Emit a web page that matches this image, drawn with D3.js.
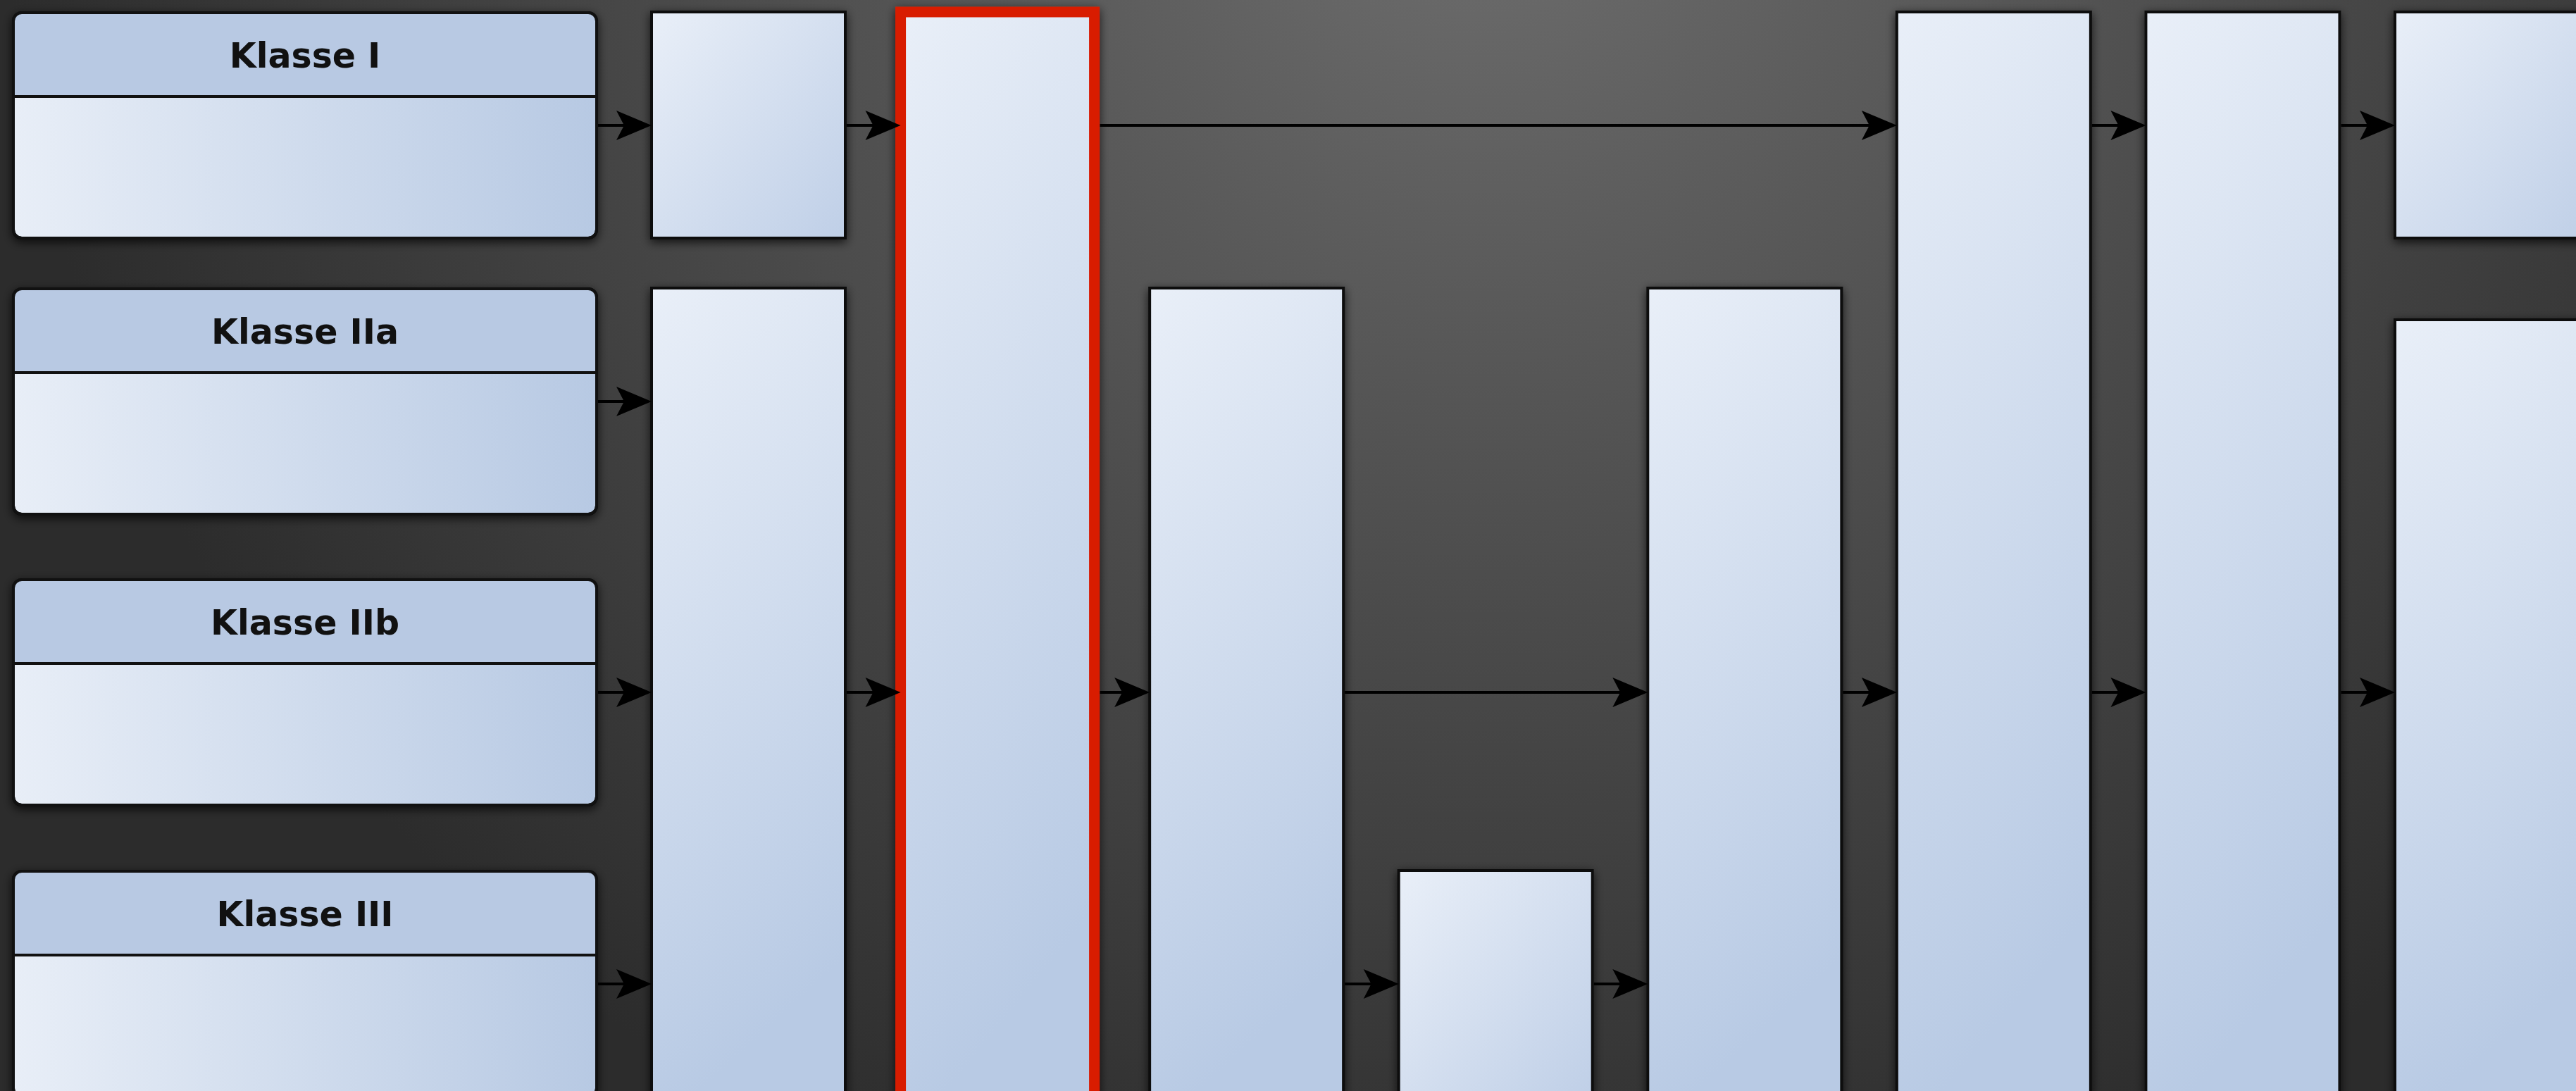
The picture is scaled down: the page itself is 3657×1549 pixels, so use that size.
<!DOCTYPE html>
<html>
<head>
<meta charset="utf-8">
<script src="https://cdn.jsdelivr.net/npm/d3@7"></script>
<style>
  body { margin: 0; background: #3a3a3a; overflow: hidden; }
</style>
</head>
<body>
<script>
const width = 3657,
    height = 1549;

// Rows (one per class) and their labels
const rows = ["I", "IIa", "IIb", "III"];
const classLabels = ["Klasse I", "Klasse IIa", "Klasse IIb", "Klasse III"];

// Stage boxes: column, first row, last row
const boxStage = [1, 1, 2, 3, 4, 5, 6, 7, 8, 8];
const boxFrom = ["I", "IIa", "I", "IIa", "III", "IIa", "I", "I", "I", "IIa"];
const boxTo = ["I", "III", "III", "III", "III", "III", "III", "III", "I", "III"];
const highlightedStage = 2;

// Arrows: row, from column (0 = class box), to column
const arrowRow = ["I", "I", "I", "I", "I", "IIa", "IIb", "IIb", "IIb", "IIb", "IIb", "IIb", "IIb", "III", "III", "III"];
const arrowFrom = [0, 1, 2, 6, 7, 0, 0, 1, 2, 3, 5, 6, 7, 0, 3, 4];
const arrowTo = [1, 2, 6, 7, 8, 1, 1, 2, 3, 5, 6, 7, 8, 1, 4, 5];

// Layout
const rowY = d3.scaleOrdinal().domain(rows).range([18, 410, 823, 1237]);
const rowH = 320,
    headerH = 119;
const x = d3.scaleLinear().domain([1, 8]).range([925, 3400]);
const colW = 275;
const classX0 = 19,
    classX1 = 847;

const svg = d3.select("body").append("svg")
    .attr("width", width)
    .attr("height", height);

const defs = svg.append("defs");

const bg = defs.append("radialGradient")
    .attr("id", "bg")
    .attr("gradientUnits", "userSpaceOnUse")
    .attr("cx", 2100).attr("cy", -250).attr("r", 2100);
bg.append("stop").attr("offset", "0%").attr("stop-color", "#707070");
bg.append("stop").attr("offset", "55%").attr("stop-color", "#4a4a4a");
bg.append("stop").attr("offset", "100%").attr("stop-color", "#2c2c2c");

const tall = defs.append("linearGradient")
    .attr("id", "tall")
    .attr("x1", 0).attr("y1", 0).attr("x2", 0.22).attr("y2", 1);
tall.append("stop").attr("offset", "0%").attr("stop-color", "#e9eff8");
tall.append("stop").attr("offset", "100%").attr("stop-color", "#b8cae4");

const short = defs.append("linearGradient")
    .attr("id", "short")
    .attr("x1", 0).attr("y1", 0).attr("x2", 1).attr("y2", 1);
short.append("stop").attr("offset", "0%").attr("stop-color", "#e9eff8");
short.append("stop").attr("offset", "100%").attr("stop-color", "#bfcfe7");

const body = defs.append("linearGradient")
    .attr("id", "body")
    .attr("x1", 0).attr("y1", 0).attr("x2", 1).attr("y2", 0);
body.append("stop").attr("offset", "0%").attr("stop-color", "#e8eef7");
body.append("stop").attr("offset", "100%").attr("stop-color", "#b7c9e3");

const shadow = defs.append("filter")
    .attr("id", "shadow")
    .attr("x", "-20%").attr("y", "-20%")
    .attr("width", "140%").attr("height", "140%");
shadow.append("feDropShadow")
    .attr("dx", 0).attr("dy", 4)
    .attr("stdDeviation", 7)
    .attr("flood-color", "#000")
    .attr("flood-opacity", 0.75);

svg.append("rect")
    .attr("width", width)
    .attr("height", height)
    .attr("fill", "url(#bg)");

// Class boxes
const classes = svg.append("g")
    .selectAll("g")
    .data(rows)
    .enter().append("g")
    .attr("transform", d => `translate(${classX0},${rowY(d)})`);

const r = 12,
    cw = classX1 - classX0;

classes.append("rect")
    .attr("width", cw)
    .attr("height", rowH)
    .attr("rx", r)
    .attr("fill", "url(#body)")
    .attr("stroke", "#111")
    .attr("stroke-width", 4)
    .attr("filter", "url(#shadow)");

classes.append("path")
    .attr("d", `M0,${headerH}V${r}Q0,0 ${r},0H${cw - r}Q${cw},0 ${cw},${r}V${headerH}Z`)
    .attr("fill", "#b8c9e3");

classes.append("rect")
    .attr("width", cw)
    .attr("height", rowH)
    .attr("rx", r)
    .attr("fill", "none")
    .attr("stroke", "#111")
    .attr("stroke-width", 4);

classes.append("line")
    .attr("x1", 0).attr("x2", cw)
    .attr("y1", headerH).attr("y2", headerH)
    .attr("stroke", "#111")
    .attr("stroke-width", 4);

classes.append("text")
    .attr("x", cw / 2)
    .attr("y", headerH / 2 + 5)
    .attr("text-anchor", "middle")
    .attr("dominant-baseline", "middle")
    .style("font-family", "'DejaVu Sans', sans-serif")
    .style("font-weight", "bold")
    .style("font-size", "49px")
    .attr("fill", "#111")
    .text((d, i) => classLabels[i]);

// Stage boxes
const boxes = boxStage.map((s, i) => {
    let top = rowY(boxFrom[i]) - 1;
    if (s === 8 && boxFrom[i] !== "I") top += 45;
    return {
        stage: s,
        x: x(s),
        y: top,
        h: rowY(boxTo[i]) + rowH - top,
        red: s === highlightedStage
    };
});

svg.append("g")
    .selectAll("rect")
    .data(boxes)
    .enter().append("rect")
    .attr("x", d => d.x)
    .attr("y", d => d.y)
    .attr("width", colW)
    .attr("height", d => d.h)
    .attr("fill", d => d.h > 400 ? "url(#tall)" : "url(#short)")
    .attr("stroke", d => d.red ? "#d81e05" : "#111")
    .attr("stroke-width", d => d.red ? 15 : 4)
    .attr("filter", "url(#shadow)");

// Arrows
const arrows = arrowRow.map((row, i) => {
    const from = arrowFrom[i],
        to = arrowTo[i];
    let x0 = from === 0 ? classX1 + 2 : x(from) + colW + 2;
    if (from === highlightedStage) x0 += 6;
    return {x0: x0, x1: x(to), y: rowY(row) + rowH / 2};
});

const ag = svg.append("g")
    .selectAll("g")
    .data(arrows)
    .enter().append("g");

ag.append("line")
    .attr("x1", d => d.x0)
    .attr("x2", d => d.x1 - 36)
    .attr("y1", d => d.y)
    .attr("y2", d => d.y)
    .attr("stroke", "#000")
    .attr("stroke-width", 4);

ag.append("path")
    .attr("d", d => `M${d.x1},${d.y}L${d.x1 - 50},${d.y - 21}L${d.x1 - 39},${d.y}L${d.x1 - 50},${d.y + 21}Z`)
    .attr("fill", "#000");
</script>
</body>
</html>
